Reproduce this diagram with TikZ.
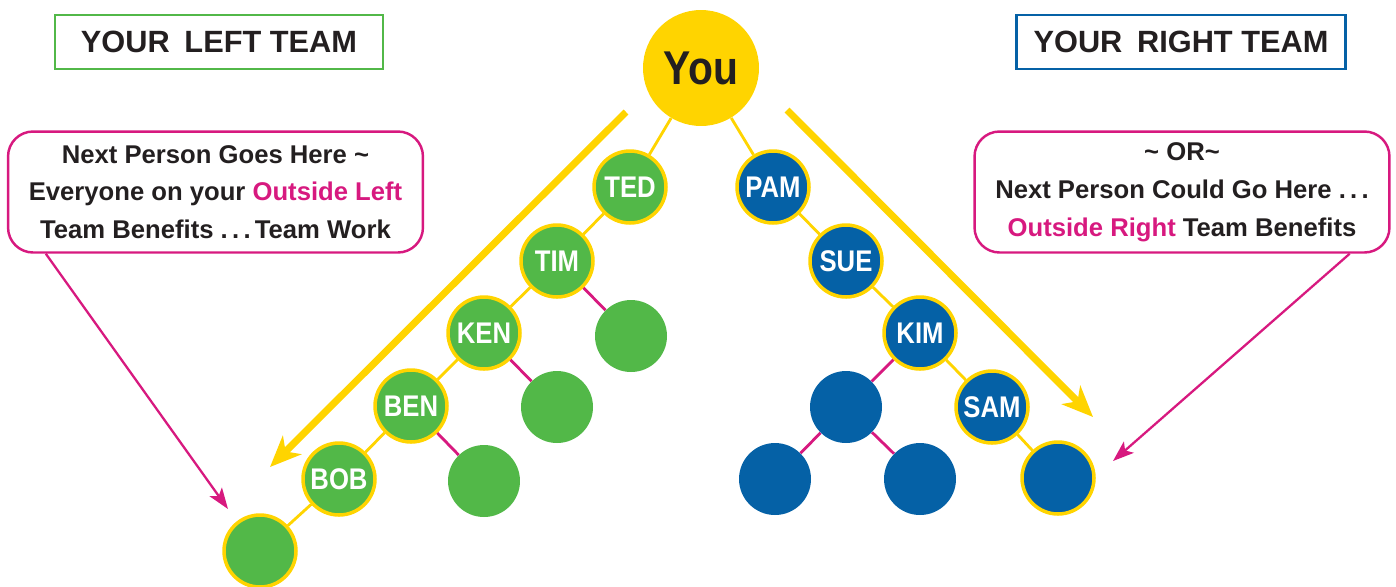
\documentclass[tikz,border=0pt]{standalone}
\usepackage{fontspec}
\setmainfont{Liberation Sans}
\newfontfamily\condfont[FakeStretch=0.86]{Liberation Sans}
\usetikzlibrary{arrows.meta}
\definecolor{teamgreen}{HTML}{52B848}
\definecolor{teamblue}{HTML}{0561A6}
\definecolor{gold}{HTML}{FFD400}
\definecolor{berry}{HTML}{D7197F}
\definecolor{ink}{HTML}{231F20}
\begin{document}
\begin{tikzpicture}
  [
    x=0.02cm, y=-0.02cm,
    person/.style={
      circle,
      minimum size=1.44cm,
      inner sep=0pt,
      text=white,
      font=\condfont\bfseries\fontsize{17}{17}\selectfont
    },
    lperson/.style={
      person,
      fill=teamgreen,
      draw=gold,
      line width=2pt
    },
    rperson/.style={
      person,
      fill=teamblue,
      draw=gold,
      line width=2pt
    },
    lspot/.style={
      person,
      fill=teamgreen
    },
    rspot/.style={
      person,
      fill=teamblue
    },
    teambox/.style={
      draw,
      line width=1.4pt,
      minimum height=1.08cm,
      text=ink,
      font=\bfseries\fontsize{17.5}{17.5}\selectfont
    },
    note/.style={
      draw=berry,
      line width=1.4pt,
      rounded corners=0.5cm,
      minimum width=8.3cm,
      minimum height=2.42cm,
      align=center,
      text=ink,
      font=\bfseries\fontsize{14.6}{21.5}\selectfont
    },
    goldlink/.style={
      gold,
      line width=1.6pt
    },
    berrylink/.style={
      berry,
      line width=1.6pt
    },
    bigarrow/.style={
      gold,
      line width=4pt,
      -{Stealth[length=0.62cm,width=0.52cm,inset=0.18cm]}
    },
    notearrow/.style={
      berry,
      line width=1.3pt,
      -{Stealth[length=0.42cm,width=0.3cm,inset=0.1cm]}
    }
  ]
  \useasboundingbox (0,0) rectangle (1396,586);

  % titles
  \node [teambox, draw=teamgreen, minimum width=6.56cm] (lteam) at (219,42) {YOUR\hspace{0.2em} LEFT TEAM};
  \node [teambox, draw=teamblue, minimum width=6.58cm] (rteam) at (1181,42) {YOUR\hspace{0.2em} RIGHT TEAM};

  % top
  \node [circle, fill=gold, minimum size=2.32cm, inner sep=0pt, text=ink,
         font=\condfont\bfseries\fontsize{27}{27}\selectfont] (you) at (701,68) {You};

  % left team
  \foreach \n/\t/\x/\y in {ted/TED/630/187, tim/TIM/557/261, ken/KEN/484/333,
                           ben/BEN/411/406, bob/BOB/339/479, lend//260/551}
    \node [lperson] (\n) at (\x,\y) {\t};
  \foreach \n/\x/\y in {lone/631/336, ltwo/557/407, lthree/484/481}
    \node [lspot] (\n) at (\x,\y) {};

  % right team
  \foreach \n/\t/\x/\y in {pam/PAM/773/187, sue/SUE/846/261, kim/KIM/920/333,
                           sam/SAM/992/407, rend//1058/478}
    \node [rperson] (\n) at (\x,\y) {\t};
  \foreach \n/\x/\y in {rone/846/407, rtwo/775/479, rthree/920/479}
    \node [rspot] (\n) at (\x,\y) {};

  % links
  \foreach \a/\b in {you/ted, ted/tim, tim/ken, ken/ben, ben/bob, bob/lend,
                     you/pam, pam/sue, sue/kim, kim/sam, sam/rend}
    \draw [goldlink] (\a) -- (\b);
  \foreach \a/\b in {tim/lone, ken/ltwo, ben/lthree, kim/rone, rone/rtwo, rone/rthree}
    \draw [berrylink] (\a) -- (\b);

  % spill-over arrows
  \coordinate (ltop) at (626,112);
  \coordinate (ltip) at (270,467);
  \coordinate (rtop) at (787,110);
  \coordinate (rtip) at (1093,417);
  \draw [bigarrow] (ltop) -- (ltip);
  \draw [bigarrow] (rtop) -- (rtip);

  % notes
  \node [note] (lnote) at (215.5,192)
    {Next Person Goes Here \char`\~\\
     Everyone on your \textcolor{berry}{Outside Left}\\
     Team Benefits .\,.\,.\,Team Work};
  \node [note] (rnote) at (1182,192)
    {\char`\~\ OR\char`\~\\
     Next Person Could Go Here .\,.\,.\\
     \textcolor{berry}{Outside Right} Team Benefits};
  \coordinate (lpoint) at (228,509);
  \coordinate (rpoint) at (1113,461);
  \draw [notearrow] ([xshift=0.78cm]lnote.south west) -- (lpoint);
  \draw [notearrow] ([xshift=-0.82cm]rnote.south east) -- (rpoint);
\end{tikzpicture}
\end{document}
